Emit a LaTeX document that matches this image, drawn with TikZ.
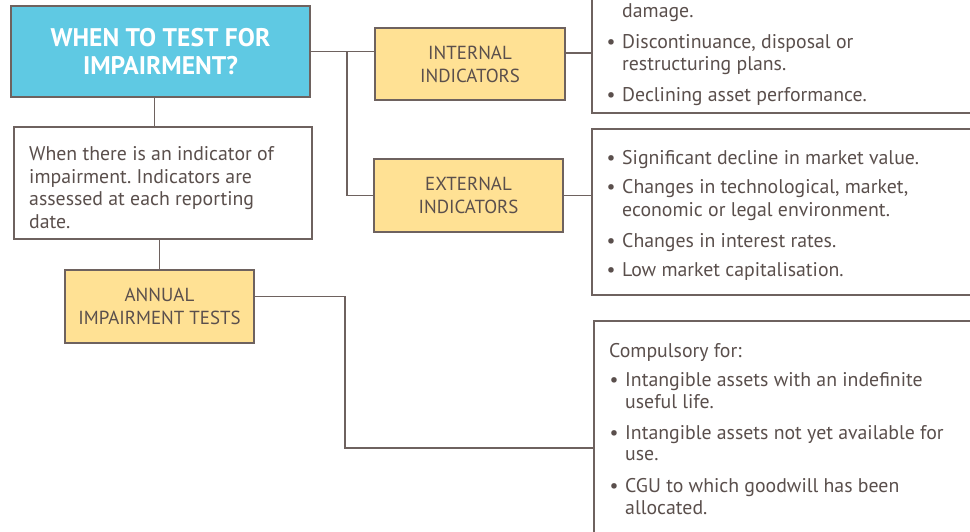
\documentclass[tikz,border=0pt]{standalone}
\usepackage{fontspec}
\setmainfont{PT Sans}
\frenchspacing
\usetikzlibrary{calc}
\definecolor{txt}{HTML}{5A4F4C}
\definecolor{edge}{HTML}{6E625F}
\definecolor{bluefill}{HTML}{5FC9E3}
\definecolor{yellowfill}{HTML}{FFE194}
\tikzset{
  box/.style={draw=edge, line width=1.3pt, rectangle, inner sep=0pt},
  bluebox/.style={box, fill=bluefill, text=white, font=\fontsize{25.5}{28}\selectfont\bfseries, align=center},
  ybox/.style={box, fill=yellowfill, text=txt, font=\fontsize{18.9}{23}\selectfont, align=center},
  wbox/.style={box, fill=white},
  conn/.style={draw=edge, line width=1.3pt},
  line/.style={anchor=base west, text=txt, font=\fontsize{19.8}{22}\selectfont, inner sep=0pt},
  bul/.style={anchor=base, text=txt, font=\fontsize{19.8}{22}\selectfont, inner sep=0pt}
}
\begin{document}
\begin{tikzpicture}[x=1pt,y=-1pt]
\useasboundingbox (0,0) rectangle (970,531);
\clip (0,0) rectangle (970,531);
% main boxes
\node[bluebox, minimum width=299pt, minimum height=91pt] (blue) at (160.5,51.5) {WHEN TO TEST FOR\\IMPAIRMENT?};
\node[ybox, minimum width=190pt, minimum height=72pt] (int) at (470,64) {INTERNAL\\INDICATORS};
\node[ybox, minimum width=189pt, minimum height=73pt] (ext) at (468.5,195.5) {EXTERNAL\\INDICATORS};
\node[wbox, minimum width=298pt, minimum height=112pt] (white) at (163,183) {};
\node[ybox, minimum width=189pt, minimum height=73pt] (annual) at (159.5,306.5) {ANNUAL\\IMPAIRMENT TESTS};
% bullet boxes (extend beyond the picture edges)
\node[wbox, minimum width=420pt, minimum height=143pt] (intbul) at (802,41.5) {};
\node[wbox, minimum width=420pt, minimum height=166pt] (extbul) at (802,212) {};
\node[wbox, minimum width=420pt, minimum height=240pt] (comp) at (804,441) {};
% connectors
\coordinate (j1) at (347,51.5);
\draw[conn] (blue.east) -- (blue.east -| int.west);
\draw[conn] (j1) |- (ext.west);
\draw[conn] ([yshift=11pt]int.east) -- ([yshift=11pt]int.east -| intbul.west);
\draw[conn] (ext.east) -- (ext.east -| extbul.west);
\draw[conn] ([xshift=-6pt]blue.south) -- ([xshift=-6pt]blue.south |- white.north);
\draw[conn] (annual.north |- white.south) -- (annual.north);
\coordinate (j2) at (345,448);
\draw[conn] ([yshift=10pt]annual.east) -| (j2) -- (j2 -| comp.west);
% white box text
\node[line] (w1) at (29,160) {When there is an indicator of};
\node[line] (w2) at (29,183) {impairment. Indicators are};
\node[line] (w3) at (29,205) {assessed at each reporting};
\node[line] (w4) at (29,228) {date.};
% internal indicators bullets
\node[line] (i0) at (622,17) {damage.};
\node[bul] (ib1) at (611,48) {•};
\node[line] (i1) at (622,48) {Discontinuance, disposal or};
\node[line] (i2) at (622,70) {restructuring plans.};
\node[bul] (ib2) at (611,101) {•};
\node[line] (i3) at (622,101) {Declining asset performance.};
% external indicators bullets
\node[bul] (eb1) at (611,164) {•};
\node[line] (e1) at (622,164) {Significant decline in market value.};
\node[bul] (eb2) at (611,193) {•};
\node[line] (e2) at (622,193) {Changes in technological, market,};
\node[line] (e3) at (622,216) {economic or legal environment.};
\node[bul] (eb3) at (611,247) {•};
\node[line] (e4) at (622,247) {Changes in interest rates.};
\node[bul] (eb4) at (611,276) {•};
\node[line] (e5) at (622,276) {Low market capitalisation.};
% compulsory
\node[line] (c0) at (609,357) {Compulsory for:};
\node[bul] (cb1) at (614,386) {•};
\node[line] (c1) at (625,386) {Intangible assets with an indefinite};
\node[line] (c2) at (625,408) {useful life.};
\node[bul] (cb2) at (614,439) {•};
\node[line] (c3) at (625,439) {Intangible assets not yet available for};
\node[line] (c4) at (625,460) {use.};
\node[bul] (cb3) at (614,492) {•};
\node[line] (c5) at (625,492) {CGU to which goodwill has been};
\node[line] (c6) at (625,514) {allocated.};
\end{tikzpicture}
\end{document}
